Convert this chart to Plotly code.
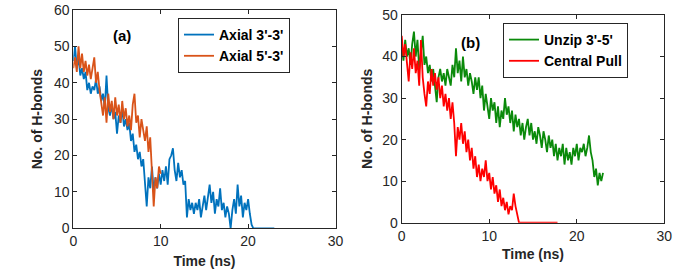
import numpy as np
import plotly.graph_objects as go

DT = 0.2  # sampling interval of the read-off series (ns)

# Panel (a)
axial_33 = [46, 50, 44, 47, 42, 44, 41, 43, 38, 40,
            37, 39, 38, 41, 37, 39, 35, 37, 33, 42,
            33, 31, 34, 30, 32, 26, 31, 29, 33, 28,
            30, 27, 29, 24, 26, 21, 23, 19, 21, 17,
            19, 13, 6, 14, 11, 17, 10, 14, 11, 15,
            12, 16, 13, 17, 12, 19, 20, 22, 16, 13,
            18, 14, 16, 12, 13, 3, 8, 5, 7, 4,
            7, 5, 8, 3, 6, 9, 5, 8, 12, 7,
            10, 4, 8, 6, 11, 5, 7, 3, 6, 4,
            0, 5, 8, 4, 12, 6, 9, 3, 7, 5,
            8, 4, 1, 0, 0, 0, 0, 0, 0, 0,
            0, 0, 0, 0, 0, 0]
axial_53 = [44, 47, 43, 50, 44, 48, 43, 46, 42, 45,
            41, 44, 47, 40, 43, 38, 35, 31, 36, 29,
            37, 32, 35, 30, 36, 31, 34, 29, 35, 30,
            33, 28, 31, 27, 34, 37, 29, 31, 25, 30,
            27, 24, 28, 21, 25, 17, 6, 14, 11, 17,
            15]

# Panel (b)
unzip_35 = [43, 39, 44, 40, 42, 38, 43, 46, 40, 44,
            37, 41, 45, 38, 40, 36, 38, 34, 37, 33,
            29, 35, 37, 34, 36, 33, 37, 35, 33, 38,
            35, 42, 36, 39, 34, 40, 35, 37, 33, 36,
            34, 31, 35, 32, 35, 30, 33, 27, 31, 28,
            25, 30, 27, 29, 24, 28, 23, 27, 25, 30,
            26, 28, 24, 27, 22, 26, 23, 25, 21, 24,
            20, 23, 25, 21, 24, 20, 22, 19, 23, 21,
            18, 22, 20, 17, 21, 18, 20, 16, 19, 15,
            18, 16, 19, 14, 18, 15, 17, 14, 18, 16,
            19, 15, 18, 17, 19, 16, 18, 21, 17, 15,
            11, 13, 9, 12, 10, 12]
central_pull = [45, 40, 43, 38, 34, 41, 37, 42, 36, 39,
                33, 44, 35, 31, 28, 34, 31, 37, 33, 36,
                32, 35, 30, 33, 28, 31, 27, 30, 25, 29,
                24, 16, 23, 20, 24, 19, 22, 17, 20, 15,
                18, 13, 16, 11, 14, 10, 13, 11, 15, 10,
                12, 8, 11, 7, 9, 5, 8, 4, 6, 3,
                5, 2, 4, 3, 7, 4, 2, 0, 0, 0,
                0, 0, 0, 0, 0, 0, 0, 0, 0, 0,
                0, 0, 0, 0, 0, 0, 0, 0, 0, 0]

x_ticks = [0, 10, 20, 30]
y_ticks_a = [0, 10, 20, 30, 40, 50, 60]
y_ticks_b = [0, 10, 20, 30, 40, 50]

BLUE = "#0072BD"
ORANGE = "#D95319"
GREEN = "#0A8A0A"
RED = "#FF0000"
INK = "#262626"
FONT = "Liberation Sans, Arial, sans-serif"


def t(vals):
    return np.arange(len(vals)) * DT


W, H = 692, 277


def px(x):
    return x / W


def py(y):
    return 1 - y / H


LW = 1.8
fig = go.Figure()
fig.add_trace(go.Scatter(x=t(axial_33), y=axial_33, mode="lines", name="Axial 3'-3'",
                         line=dict(color=BLUE, width=LW), xaxis="x", yaxis="y", legend="legend"))
fig.add_trace(go.Scatter(x=t(axial_53), y=axial_53, mode="lines", name="Axial 5'-3'",
                         line=dict(color=ORANGE, width=LW), xaxis="x", yaxis="y", legend="legend"))
fig.add_trace(go.Scatter(x=t(unzip_35), y=unzip_35, mode="lines", name="Unzip 3'-5'",
                         line=dict(color=GREEN, width=LW), xaxis="x2", yaxis="y2", legend="legend2"))
fig.add_trace(go.Scatter(x=t(central_pull), y=central_pull, mode="lines", name="Central Pull",
                         line=dict(color=RED, width=LW), xaxis="x2", yaxis="y2", legend="legend2"))

axis_common = dict(showgrid=False, zeroline=False, showline=True, linecolor=INK, linewidth=1,
                   mirror="ticks", ticks="inside", ticklen=4, tickcolor=INK, automargin=False,
                   ticklabeloverflow="allow",
                   tickfont=dict(family=FONT, size=14, color=INK))
title_font = dict(family=FONT, size=14, color=INK, weight="bold")
legend_font = dict(family=FONT, size=14, color="black", weight="bold")

fig.update_layout(
    width=W, height=H,
    margin=dict(l=0, r=0, t=0, b=0, autoexpand=False),
    paper_bgcolor="white", plot_bgcolor="white",
    showlegend=True,
    xaxis=dict(domain=[px(73.3), px(335.5)], range=[0, 30], tickvals=x_ticks, anchor="y",
               title=dict(text="<b>Time (ns)</b>", font=title_font, standoff=8), **axis_common),
    yaxis=dict(domain=[py(228.3), py(10)], range=[0, 60], tickvals=y_ticks_a, anchor="x",
               title=dict(text="<b>No. of H-bonds</b>", font=title_font, standoff=8), **axis_common),
    xaxis2=dict(domain=[px(401.7), px(664.3)], range=[0, 30], tickvals=x_ticks, anchor="y2",
                title=dict(text="<b>Time (ns)</b>", font=title_font, standoff=6), **axis_common),
    yaxis2=dict(domain=[py(222.7), py(15)], range=[0, 50], tickvals=y_ticks_b, anchor="x2",
                title=dict(text="<b>No. of H-bonds</b>", font=title_font, standoff=6), **axis_common),
    legend=dict(x=px(178), y=py(18), xanchor="left", yanchor="top",
                bordercolor=INK, borderwidth=1, bgcolor="white", font=legend_font,
                tracegroupgap=0, itemwidth=30),
    legend2=dict(x=px(503), y=py(23), xanchor="left", yanchor="top",
                 bordercolor=INK, borderwidth=1, bgcolor="white", font=legend_font,
                 tracegroupgap=0, itemwidth=30),
    annotations=[
        dict(text="<b>(a)</b>", x=5.6, y=53, xref="x", yref="y", showarrow=False,
             font=dict(family=FONT, size=15, color="black")),
        dict(text="<b>(b)</b>", x=7.9, y=43.3, xref="x2", yref="y2", showarrow=False,
             font=dict(family=FONT, size=15, color="black")),
    ],
)

# remove the default 8px page margin so the figure sits at the window origin
fig.write_html("out.html", config={"displayModeBar": False},
               post_script="document.body.style.margin='0';")
